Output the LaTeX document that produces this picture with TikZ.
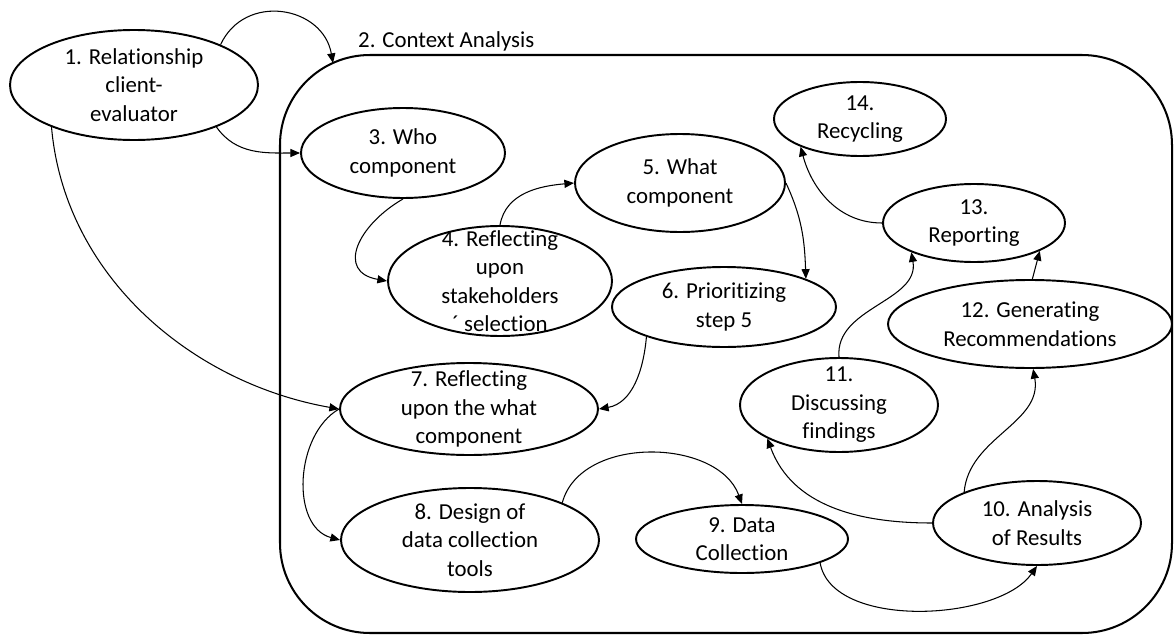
\documentclass[tikz,border=0pt]{standalone}
\usepackage{fontspec}
\setmainfont{Carlito}[Ligatures=NoCommon]
\usetikzlibrary{shapes.geometric,arrows.meta}

\tikzset{
	stage/.style={draw, ellipse, line width=1.1pt, inner sep=0pt},
	link/.style={-{Triangle[length=5.5pt,width=4.6pt]}, line width=0.6pt},
	every label/.style={align=center, inner sep=0pt},
}

\begin{document}
\begin{tikzpicture}[font=\fontsize{13}{16.2}\selectfont]
	\useasboundingbox (0,0) rectangle (23.52,-12.7);

	% the big frame
	\draw [line width=1.15pt, rounded corners=1.8cm] (5.6,-1.1) rectangle (23.44,-12.66);
	\node [anchor=west] (ctxlabel) at (7.04,-0.82) {2. Context Analysis};
	\coordinate (ctxin) at (6.66,-1.26);

	\node [stage, minimum width=4.96cm, minimum height=2.2cm, label=center:{1. Relationship\\client-\\evaluator}] (rel) at (2.68,-1.70) {};
	\node [stage, minimum width=4.08cm, minimum height=1.8cm, label=center:{3. Who\\component}] (who) at (8.06,-3.06) {};
	\node [stage, minimum width=4.48cm, minimum height=2.2cm, label=center:{4. Reflecting\\upon\\stakeholders\\´ selection}] (stake) at (10.0,-5.62) {};
	\node [stage, minimum width=4.2cm, minimum height=1.96cm, label=center:{5. What\\component}] (what) at (13.6,-3.66) {};
	\node [stage, minimum width=4.48cm, minimum height=1.6cm, label=center:{6. Prioritizing\\step 5}] (prio) at (14.48,-6.14) {};
	\node [stage, minimum width=5.16cm, minimum height=1.84cm, label=center:{7. Reflecting\\upon the what\\component}] (reflect) at (9.38,-8.18) {};
	\node [stage, minimum width=5.16cm, minimum height=2.08cm, label=center:{8. Design of\\data collection\\tools}] (design) at (9.4,-10.8) {};
	\node [stage, minimum width=4.24cm, minimum height=1.36cm, label=center:{9. Data\\Collection}] (collect) at (14.84,-10.78) {};
	\node [stage, minimum width=4.16cm, minimum height=1.68cm, label=center:{10. Analysis\\of Results}] (analysis) at (20.74,-10.46) {};
	\node [stage, minimum width=3.96cm, minimum height=1.88cm, label=center:{11.\\Discussing\\findings}] (discuss) at (16.78,-8.1) {};
	\node [stage, minimum width=5.68cm, minimum height=1.76cm, label=center:{12. Generating\\Recommendations}] (recom) at (20.6,-6.48) {};
	\node [stage, minimum width=3.64cm, minimum height=1.56cm, label=center:{13.\\Reporting}] (report) at (19.48,-4.46) {};
	\node [stage, minimum width=3.44cm, minimum height=1.48cm, label=center:{14.\\Recycling}] (recycle) at (17.2,-2.38) {};

	\draw [link] (rel.25) to[out=65, in=100, looseness=1.3] (ctxin);
	\draw [link] (rel.-27) to[out=-55, in=180] (who.west);
	\draw [link] (rel.-153) to[out=-85, in=170, looseness=0.95] (reflect.west);
	\draw [link] (who.south) to[out=-150, in=170, looseness=1.6] (stake.west);
	\draw [link] (stake.north) to[out=80, in=185] (what.west);
	\draw [link] (what.east) to[out=-65, in=92] (prio.19);
	\draw [link] (prio.201) to[out=-95, in=10] (reflect.east);
	\draw [link] (reflect.west) to[out=210, in=165] (design.west);
	\draw [link] (design.22) to[out=75, in=110] (collect.north);
	\draw [link] (collect.-17) to[out=-80, in=-125, looseness=0.8] (analysis.south);
	\draw [link] (analysis.west) to[out=180, in=-70] (discuss.205);
	\draw [link] (analysis.157) to[out=85, in=-80] (recom.-86);
	\draw [link] (discuss.north) to[out=95, in=-80] (report.205);
	\draw [link] (recom.87) -- (report.-23);
	\draw [link] (report.west) to[out=180, in=-75] (recycle.205);
\end{tikzpicture}
\end{document}
